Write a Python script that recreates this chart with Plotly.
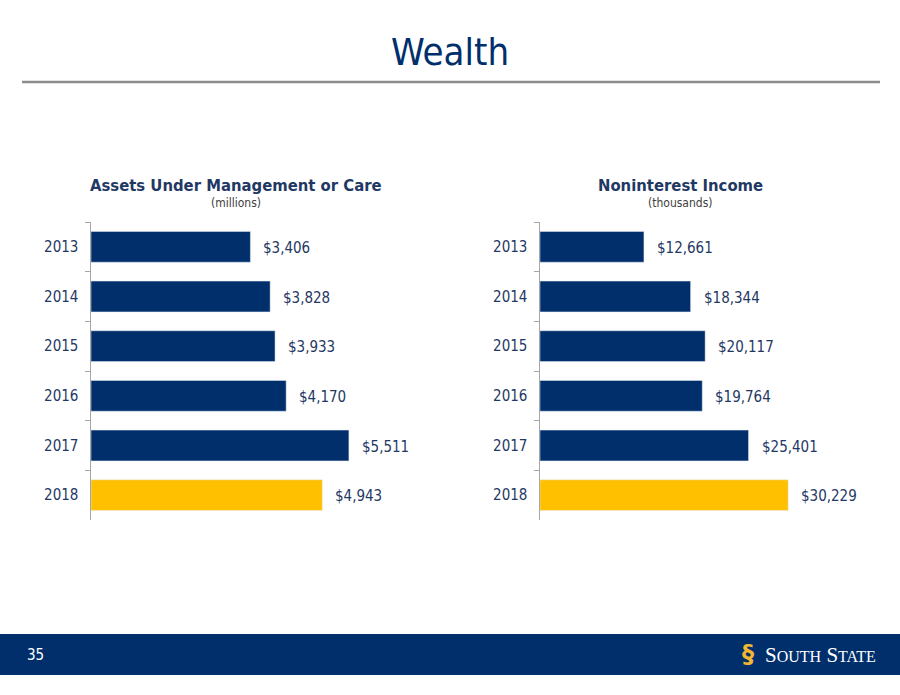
import plotly.graph_objects as go

years = ["2013", "2014", "2015", "2016", "2017", "2018"]
aum_values = [3406, 3828, 3933, 4170, 5511, 4943]
nii_values = [12661, 18344, 20117, 19764, 25401, 30229]
bar_colors = ["#002F6C"] * 5 + ["#FFC000"]

NAVY = "#002F6C"
TXT = "#1F3864"
W, H = 900, 695
FONT = "DejaVu Sans Condensed"

def py(p):
    return 1 - p / H

def px(p):
    return p / W

fig = go.Figure()
ann = []
for vals, xa, ya in [(aum_values, "x", "y"), (nii_values, "x2", "y2")]:
    fig.add_trace(go.Bar(x=vals, y=years, orientation="h", marker_color=bar_colors,
                         xaxis=xa, yaxis=ya, hoverinfo="skip"))
    for i, v in enumerate(vals):
        # category serial number (axis order is reversed: last year = 0)
        ann.append(dict(x=v, y=len(years) - 1 - i, xref=xa, yref=ya, text=f"${v:,}", showarrow=False,
                        xanchor="left", yanchor="middle", xshift=11, yshift=-1,
                        font=dict(size=15, color=TXT, family=FONT)))

ann += [
    dict(x=0.5, y=py(52), xref="paper", yref="paper", text="Wealth", showarrow=False, xanchor="center",
         font=dict(size=38, color=NAVY, family=FONT), yanchor="middle"),
    dict(x=px(236), y=py(185), xref="paper", yref="paper", text="<b>Assets Under Management or Care</b>",
         showarrow=False, xanchor="center", font=dict(size=16.5, color=TXT, family=FONT), yanchor="middle"),
    dict(x=px(236), y=py(203), xref="paper", yref="paper", text="(millions)", xanchor="center",
         showarrow=False, font=dict(size=12, color="#404040", family=FONT), yanchor="middle"),
    dict(x=px(680), y=py(185), xref="paper", yref="paper", text="<b>Noninterest Income</b>", xanchor="center",
         showarrow=False, font=dict(size=16.5, color=TXT, family=FONT), yanchor="middle"),
    dict(x=px(680), y=py(203), xref="paper", yref="paper", text="(thousands)", xanchor="center",
         showarrow=False, font=dict(size=12, color="#404040", family=FONT), yanchor="middle"),
    dict(x=px(35), y=py(655), xref="paper", yref="paper", text="35", showarrow=False, xanchor="center",
         font=dict(size=15, color="white", family=FONT), yanchor="middle"),
    dict(x=px(878), y=py(655), xref="paper", yref="paper",
         text="S<span style='font-size:16px'>OUTH</span> S<span style='font-size:16px'>TATE</span>",
         showarrow=False, xanchor="right", font=dict(size=21, color="white", family="Liberation Serif"),
         yanchor="middle"),
    dict(x=px(748), y=py(654), xref="paper", yref="paper", text="<b>§</b>", showarrow=False, xanchor="center",
         font=dict(size=24, color="#F2B632", family="DejaVu Sans"), yanchor="middle"),
]

shapes = [
    dict(type="line", xref="paper", yref="paper", x0=px(22), x1=px(880), y0=py(82), y1=py(82),
         line=dict(color="#8C8C8C", width=2.5)),
    dict(type="rect", xref="paper", yref="paper", x0=0, x1=1, y0=py(675), y1=py(634),
         fillcolor=NAVY, line=dict(width=0), layer="below"),
]

yaxis_common = dict(type="category", categoryorder="array", categoryarray=years[::-1],
                    range=[-0.5, len(years) - 0.5],
                    showline=True, linecolor="#A6A6A6", linewidth=1,
                    ticks="outside", ticklen=5, tickcolor="#A6A6A6", tickson="boundaries",
                    showgrid=False, zeroline=False, ticksuffix="  ",
                    tickfont=dict(size=15, color=TXT, family=FONT),
                    domain=[py(520), py(222)])
xaxis_common = dict(visible=False, showgrid=False, zeroline=False)

fig.update_layout(
    width=W, height=H, margin=dict(l=0, r=0, t=0, b=0),
    paper_bgcolor="white", plot_bgcolor="white", showlegend=False,
    bargap=0.38,
    xaxis=dict(**xaxis_common, domain=[px(91), px(420)], range=[0, (420 - 91) / 0.0468]),
    xaxis2=dict(**xaxis_common, domain=[px(540), px(870)], range=[0, (870 - 540) / 0.00821]),
    yaxis=dict(**yaxis_common, anchor="x"),
    yaxis2=dict(**yaxis_common, anchor="x2"),
    annotations=ann, shapes=shapes,
)

fig.write_html("out.html", config={"displayModeBar": False},
               post_script="document.body.style.margin='0';")
